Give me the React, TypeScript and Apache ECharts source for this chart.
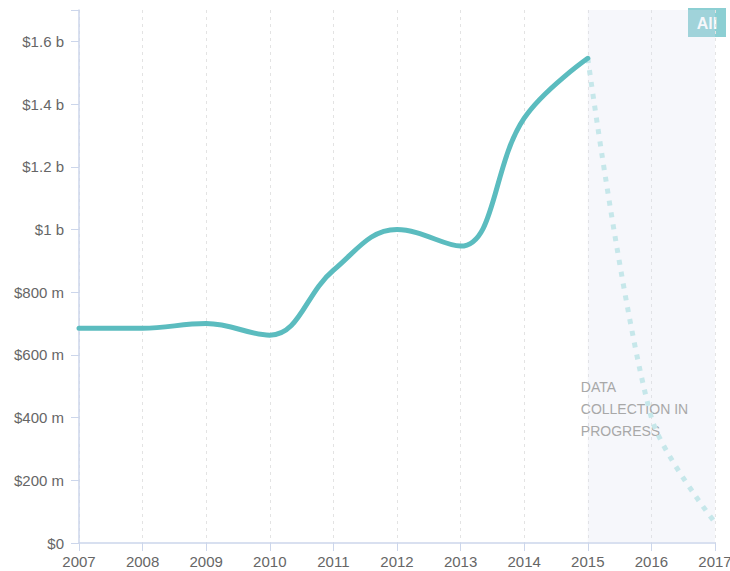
import React, { useEffect, useRef } from "react";
import * as echarts from "echarts";

const years = [2007, 2008, 2009, 2010, 2011, 2012, 2013, 2014, 2015, 2016, 2017];
// values in millions of dollars
const actualValues = [685, 685, 700, 663, 870, 1000, 947, 1355, 1546];
const partialYears = [2015, 2016, 2017];
const partialValues = [1546, 400, 65];
const bandStart = 2015;
const bandEnd = 2017;
const bandText = "DATA\nCOLLECTION IN\nPROGRESS";
const buttonText = "All";

const FONT = "'Liberation Sans', Arial, Helvetica, sans-serif";

function yLabel(v: number): string {
  if (v === 0) return "$0";
  if (v % 200 !== 0) return "";
  if (v >= 1000) return "$" + v / 1000 + " b";
  return "$" + v + " m";
}

export default function App() {
  const ref = useRef<HTMLDivElement>(null);

  useEffect(() => {
    document.body.style.margin = "0";
    document.body.style.overflow = "hidden";
    if (!ref.current) return;
    const chart = echarts.init(ref.current, undefined, { renderer: "svg" });

    const actualData = actualValues.map((v, i) => [years[i], v]);
    const partialData = partialValues.map((v, i) => [partialYears[i], v]);

    chart.setOption({
      animation: false,
      backgroundColor: "#ffffff",
      textStyle: { fontFamily: FONT },
      grid: {
        left: 79,
        right: 15,
        top: 10,
        bottom: 28,
        containLabel: false,
        outerBoundsMode: "none",
      },
      xAxis: {
        type: "value",
        min: years[0],
        max: years[years.length - 1],
        interval: 1,
        axisLine: { show: true, lineStyle: { color: "#ccd6eb", width: 1.5 } },
        axisTick: { show: true, length: 8, lineStyle: { color: "#ccd6eb" } },
        axisLabel: {
          formatter: (v: number) => String(v),
          color: "#666666",
          fontSize: 15,
          fontFamily: FONT,
          margin: 11,
        },
        splitLine: {
          show: true,
          lineStyle: { color: "#e3e3e3", type: [3, 4], width: 1 },
        },
      },
      yAxis: {
        type: "value",
        min: 0,
        max: 1700,
        interval: 200,
        axisLine: { show: true, lineStyle: { color: "#ccd6eb", width: 1.5 } },
        axisTick: { show: true, length: 8, lineStyle: { color: "#ccd6eb" } },
        axisLabel: {
          formatter: yLabel,
          color: "#666666",
          fontSize: 15,
          fontFamily: FONT,
          margin: 15,
        },
        splitLine: { show: false },
      },
      series: [
        {
          name: "Actual",
          type: "line",
          smooth: 0.4,
          symbol: "none",
          z: 3,
          lineStyle: { width: 5, color: "#5bbcbf", cap: "round" },
          data: actualData,
          markArea: {
            silent: true,
            itemStyle: { color: "rgba(220,222,238,0.25)" },
            label: {
              show: true,
              position: [-7, 366],
              align: "left",
              verticalAlign: "top",
              color: "#a8a8a8",
              fontSize: 14,
              fontFamily: FONT,
              lineHeight: 22,
              formatter: bandText,
            },
            data: [[{ xAxis: bandStart }, { xAxis: bandEnd }]],
          },
        },
        {
          name: "Partial",
          type: "line",
          smooth: 0.3,
          symbol: "none",
          z: 2,
          lineStyle: { width: 5, color: "#c6e7ea", type: [5, 7], cap: "butt" },
          data: partialData,
        },
      ],
      graphic: [
        {
          type: "group",
          right: 4,
          top: 8,
          children: [
            {
              type: "rect",
              shape: { x: 0, y: 0, width: 38, height: 29 },
              style: { fill: "#8ccfd3" },
            },
            {
              type: "text",
              x: 19,
              y: 15,
              style: {
                text: buttonText,
                fill: "#ffffff",
                font: "bold 16px " + FONT,
                align: "center",
                verticalAlign: "middle",
              },
            },
          ],
        },
      ],
    });

    return () => chart.dispose();
  }, []);

  return <div ref={ref} style={{ width: 730, height: 571 }} />;
}
